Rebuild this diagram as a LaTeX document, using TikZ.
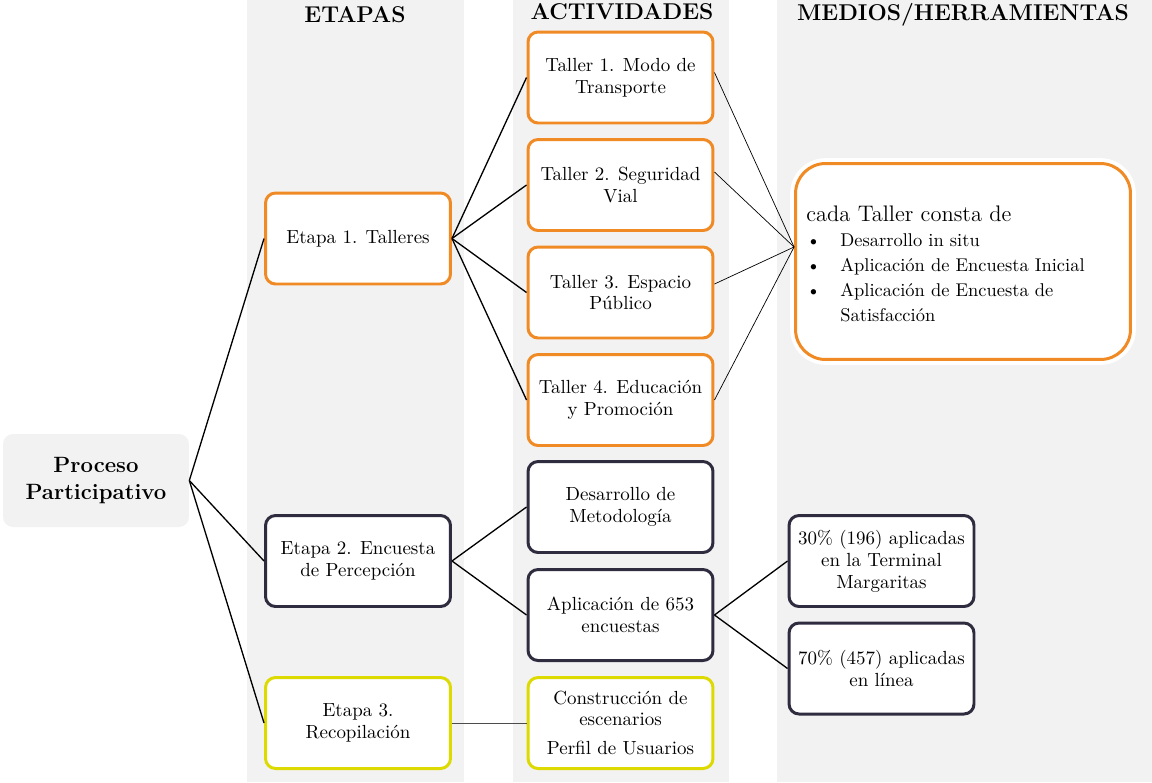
\documentclass[tikz,border=0pt]{standalone}

\definecolor{bggray}{HTML}{F2F2F2}
\definecolor{tallerorange}{HTML}{F08A24}
\definecolor{encnavy}{HTML}{2E2C3E}
\definecolor{recyellow}{HTML}{DCDA00}

\begin{document}
\begin{tikzpicture}[x=0.02cm, y=-0.02cm,
    box/.style={draw, rounded corners=0.2cm, line width=1.7pt, fill=white,
        minimum width=3.7cm, minimum height=1.82cm, align=center, inner sep=2pt,
        font=\fontsize{10.8}{12.5}\selectfont},
    orangebox/.style={box, draw=tallerorange},
    navybox/.style={box, draw=encnavy},
    yellowbox/.style={box, draw=recyellow},
    header/.style={font=\fontsize{13}{15}\selectfont\bfseries},
    link/.style={line width=0.75pt},
    thinlink/.style={line width=0.4pt}
]
    \useasboundingbox (0,0) rectangle (1152,782);

    % columns
    \fill[bggray] (247,0) rectangle (464,782);
    \fill[bggray] (513,0) rectangle (729,782);
    \fill[bggray] (777,0) rectangle (1152,782);

    \node[header] (h1) at (355,15) {ETAPAS};
    \node[header] (h2) at (622,12) {ACTIVIDADES};
    \node[header] (h3) at (963,15) {MEDIOS/HERRAMIENTAS};

    \node[fill=bggray, rounded corners=0.2cm, minimum width=3.72cm, minimum height=1.86cm,
        align=center, font=\fontsize{12.6}{15.3}\selectfont\bfseries] (proc) at (96,480.5)
        {Proceso\\Participativo};

    \node[orangebox] (e1) at (358,238.5) {Etapa 1. Talleres};
    \node[navybox] (e2) at (358,561) {Etapa 2. Encuesta\\de Percepción};
    \node[yellowbox] (e3) at (358,723) {Etapa 3.\\Recopilación};

    \node[orangebox] (t1) at (620.5,77.5) {Taller 1. Modo de\\Transporte};
    \node[orangebox] (t2) at (620.5,185) {Taller 2. Seguridad\\Vial};
    \node[orangebox] (t3) at (620.5,292.5) {Taller 3. Espacio\\Público};
    \node[orangebox] (t4) at (620.5,400) {Taller 4. Educación\\y Promoción};
    \node[navybox] (d1) at (620.5,507) {Desarrollo de\\Metodología};
    \node[navybox] (d2) at (620.5,615) {Aplicación de 653\\encuestas};
    \node[yellowbox] (c1) at (620.5,723) {Construcción de\\escenarios\\[4pt]Perfil de Usuarios};

    \node[navybox] (m1) at (881.5,561) {30\% (196) aplicadas\\en la Terminal\\Margaritas};
    \node[navybox] (m2) at (881.5,668.5) {70\% (457) aplicadas\\en línea};

    \node[draw=white, fill=white, rounded corners=0.7cm, minimum width=6.9cm,
        minimum height=4.12cm] (glow) at (963,261.5) {};
    \node[draw=tallerorange, line width=1.7pt, fill=white, rounded corners=0.6cm,
        minimum width=6.7cm, minimum height=3.92cm] (cada) at (963,261.5) {};
    \node[anchor=west, align=left, inner sep=0pt, font=\fontsize{10.5}{14.2}\selectfont]
        (cadatxt) at (806,264)
        {{\fontsize{12.8}{15}\selectfont cada Taller consta de}\\
         \makebox[0.68cm][l]{\textbullet}Desarrollo in situ\\
         \makebox[0.68cm][l]{\textbullet}Aplicación de Encuesta Inicial\\
         \makebox[0.68cm][l]{\textbullet}Aplicación de Encuesta de\\
         \hspace*{0.68cm}Satisfacción};

    \draw[link] (proc.east) -- (e1.west);
    \draw[link] (proc.east) -- (e2.west);
    \draw[link] (proc.east) -- (e3.west);

    \draw[link] (e1.east) -- (t1.west);
    \draw[link] (e1.east) -- (t2.west);
    \draw[link] (e1.east) -- (t3.west);
    \draw[link] (e1.east) -- (t4.west);

    \draw[thinlink] ([yshift=0.1cm]t1.east) -- ([yshift=0.29cm]cada.west);
    \draw[thinlink] ([yshift=0.26cm]t2.east) -- ([yshift=0.29cm]cada.west);
    \draw[thinlink] ([yshift=0.17cm]t3.east) -- ([yshift=0.29cm]cada.west);
    \draw[thinlink] (t4.east) -- ([yshift=0.29cm]cada.west);

    \draw[link] (e2.east) -- (d1.west);
    \draw[link] (e2.east) -- (d2.west);
    \draw[link] (d2.east) -- (m1.west);
    \draw[link] (d2.east) -- (m2.west);

    \draw[thinlink, draw=black!70] (e3.east) -- (c1.west);
\end{tikzpicture}
\end{document}
